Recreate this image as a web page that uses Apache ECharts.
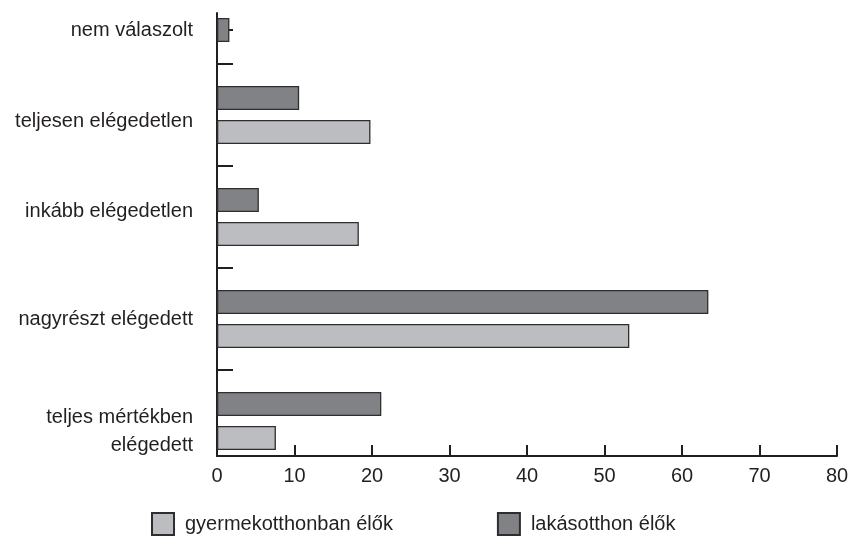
<!DOCTYPE html>
<html>
<head>
<meta charset="utf-8">
<script src="https://cdn.jsdelivr.net/npm/echarts@6/dist/echarts.min.js"></script>
<style>
  html, body { margin: 0; padding: 0; background: #fff; }
  #chart { width: 850px; height: 539px; }
</style>
</head>
<body>
<div id="chart"></div>
<script>
// elégedettség – két csoport, vízszintes oszlopok
const categories = ['nem válaszolt', 'teljesen elégedetlen', 'inkább elégedetlen', 'nagyrészt elégedett', 'teljes mértékben\nelégedett'];
const gyermekotthon = [null, 19.8, 18.3, 53.2, 7.6];   // gyermekotthonban élők
const lakasotthon = [1.6, 10.6, 5.4, 63.4, 21.2];     // lakásotthon élők
const xTicks = [0, 10, 20, 30, 40, 50, 60, 70, 80];

const COLORS = {
  light: '#bcbdc1',
  dark: '#818286',
  border: '#2e2e2e',
  axis: '#231f20',
  text: '#231f20',
};
const FONT = "'Liberation Sans', Arial, sans-serif";
const FS = 20;

// a kategóriafeliratok függőleges eltolása (px), az eredeti elrendezéshez
const LABEL_SHIFT = [17, 6, -6, 0, 10];

// ahol csak egy érték van, az alsó sávba kerül (mint az eredetin)
const darkData = lakasotthon.map((v, i) => (gyermekotthon[i] == null ? '-' : v));
const lightData = gyermekotthon.map((v, i) => (v == null
  ? { value: lakasotthon[i], itemStyle: { color: COLORS.dark } }
  : v));

// üres "távtartó" sor a felirat fölött / alatt
const labelRich = { t: { fontFamily: FONT, fontSize: FS, color: COLORS.text, lineHeight: 28 } };
LABEL_SHIFT.forEach((s, i) => {
  if (s) labelRich['sp' + i] = { fontSize: 1, lineHeight: 2 * Math.abs(s) };
});

function shiftLabel(text, i) {
  const s = LABEL_SHIFT[i] || 0;
  const lines = text.split('\n').map(ln => '{t|' + ln + '}');
  if (s > 0) lines.unshift('{sp' + i + '| }');
  if (s < 0) lines.push('{sp' + i + '| }');
  return lines.join('\n');
}

const chart = echarts.init(document.getElementById('chart'), null, { renderer: 'canvas' });

const option = {
  animation: false,
  backgroundColor: '#fff',
  textStyle: { fontFamily: FONT },
  legend: {
    data: ['gyermekotthonban élők', 'lakásotthon élők'],
    left: 151,
    top: 512,
    padding: 0,
    itemWidth: 22,
    itemHeight: 22,
    itemGap: 104,
    icon: 'rect',
    textStyle: { fontFamily: FONT, fontSize: FS, color: COLORS.text, padding: [0, 0, 0, 6] },
  },
  grid: [
    // sávok (a felső sáv levágva, mint az eredetin)
    { left: 217, right: 13, top: -38, height: 510, outerBoundsMode: 'none' },
    // tengelyek
    { left: 217, right: 13, top: 13, height: 443, outerBoundsMode: 'none' },
  ],
  xAxis: [
    { type: 'value', gridIndex: 0, min: 0, max: 80, show: false },
    {
      type: 'value', gridIndex: 1, min: 0, max: 80, interval: 10, position: 'bottom',
      axisLine: { show: true, onZero: false, lineStyle: { color: COLORS.axis, width: 2 } },
      axisTick: { show: true, inside: true, length: 11, lineStyle: { color: COLORS.axis, width: 2 } },
      axisLabel: {
        fontFamily: FONT, fontSize: FS, color: COLORS.text, margin: 10,
        formatter: v => (xTicks.indexOf(v) >= 0 ? String(v) : ''),
      },
      splitLine: { show: false },
    },
  ],
  yAxis: [
    {
      type: 'category', gridIndex: 0, inverse: true, data: categories,
      axisLine: { show: false },
      axisTick: { show: false },
      axisLabel: {
        fontFamily: FONT, fontSize: FS, color: COLORS.text, margin: 24, lineHeight: 28, align: 'right',
        formatter: (v, i) => shiftLabel(v, i),
        rich: labelRich,
      },
      splitLine: { show: false },
    },
    {
      type: 'value', gridIndex: 1, inverse: true, min: 0, max: 443 / 102,
      axisLine: { show: true, onZero: false, lineStyle: { color: COLORS.axis, width: 2 } },
      axisTick: {
        show: true, inside: true, length: 16,
        customValues: [1 / 6, 0.5, 1.5, 2.5, 3.5],
        lineStyle: { color: COLORS.axis, width: 2 },
      },
      axisLabel: { show: false },
      splitLine: { show: false },
    },
  ],
  series: [
    {
      name: 'lakásotthon élők', type: 'bar', xAxisIndex: 0, yAxisIndex: 0,
      data: darkData,
      barWidth: 24, barGap: '42%',
      itemStyle: { color: COLORS.dark, borderColor: COLORS.border, borderWidth: 1.3 },
      z: 3,
    },
    {
      name: 'gyermekotthonban élők', type: 'bar', xAxisIndex: 0, yAxisIndex: 0,
      data: lightData,
      barWidth: 24, barGap: '42%',
      itemStyle: { color: COLORS.light, borderColor: COLORS.border, borderWidth: 1.3 },
      z: 3,
    },
  ],
};

chart.setOption(option);
</script>
</body>
</html>
